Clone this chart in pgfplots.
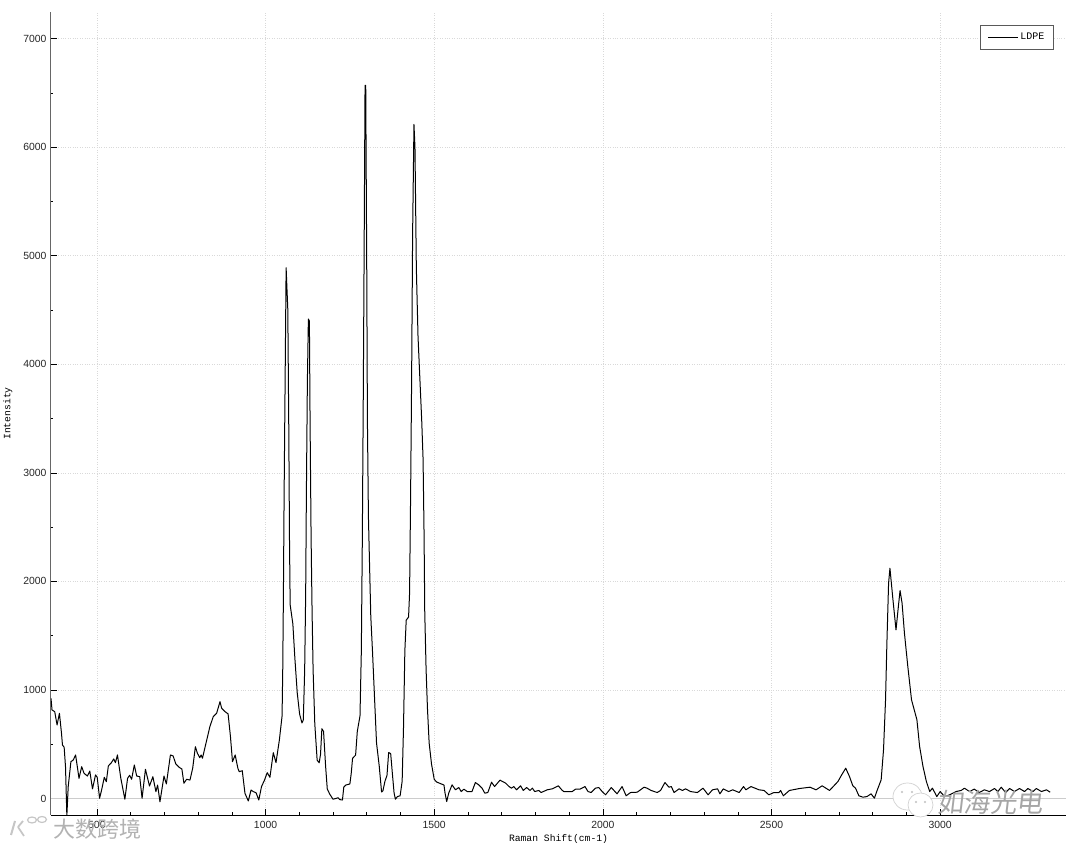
\documentclass[border=0pt]{standalone}
\usepackage{fontspec}
\setmainfont{Liberation Sans}
\setmonofont{Liberation Mono}
\newfontfamily\cjk{Noto Sans CJK SC}
\usepackage{pgfplots}
\usepackage{pgfplotstable}
\pgfplotsset{compat=1.18}

\pgfplotstableread{
x y
364 923
367 816
375 800
382 677
389 785
395 604
398 493
403 472
407 293
411 -160
415 109
423 339
430 355
437 401
447 186
455 293
462 232
472 207
479 253
487 88
496 217
501 195
508 2
514 78
522 195
528 155
534 300
543 330
550 364
555 330
561 401
571 186
583 -7
591 186
597 214
603 177
611 309
618 207
627 201
634 2
644 269
656 115
666 201
675 63
680 124
687 -30
699 207
706 134
718 401
726 392
734 318
744 287
752 272
758 140
766 177
776 170
784 278
792 477
798 417
805 376
809 401
813 371
821 477
835 662
845 754
855 785
865 892
870 831
880 800
889 779
896 570
902 339
906 370
910 401
918 278
922 247
931 256
939 48
949 -23
957 78
964 63
972 53
980 -14
988 109
997 170
1005 238
1013 195
1023 422
1031 330
1041 539
1049 760
1051 1184
1053 1890
1055 2774
1058 3834
1061 4890
1066 4505
1069 3375
1071 2385
1073 1784
1081 1608
1087 1290
1094 972
1101 777
1108 696
1112 724
1116 1184
1119 1890
1121 2774
1124 3834
1127 4417
1130 4399
1132 3481
1135 2420
1138 1714
1141 1184
1146 689
1153 353
1159 329
1163 406
1167 643
1172 618
1178 300
1183 88
1190 42
1200 -7
1208 0
1215 7
1220 -10
1228 -14
1232 106
1238 124
1250 134
1254 230
1258 371
1267 399
1272 618
1280 760
1284 1360
1287 2420
1290 3834
1292 4894
1295 6570
1297 6570
1300 4894
1302 3481
1305 2597
1309 2067
1312 1678
1317 1360
1322 1007
1329 512
1337 300
1344 60
1348 71
1354 159
1360 212
1365 424
1371 413
1376 230
1381 53
1385 -7
1391 18
1399 25
1405 159
1409 654
1413 1360
1417 1643
1424 1671
1427 1890
1430 2774
1433 3834
1436 5200
1440 6210
1443 6000
1447 4894
1452 4258
1458 3834
1463 3481
1467 3127
1470 2420
1472 1714
1476 1184
1480 830
1485 512
1492 318
1500 177
1507 152
1529 124
1532 53
1537 -28
1543 49
1553 126
1563 80
1573 101
1580 64
1588 86
1598 64
1612 64
1622 147
1632 126
1642 95
1650 49
1659 55
1670 150
1679 110
1695 169
1712 141
1722 110
1729 95
1736 110
1744 80
1756 117
1764 74
1774 101
1784 74
1791 95
1798 64
1810 74
1817 55
1835 80
1850 89
1868 117
1878 80
1884 64
1909 64
1919 86
1932 86
1947 110
1956 64
1965 55
1978 95
1988 101
1998 64
2008 34
2025 101
2042 43
2057 110
2069 25
2082 55
2102 58
2122 104
2131 95
2143 74
2161 55
2171 74
2184 147
2196 104
2203 110
2211 55
2226 89
2236 74
2245 89
2260 64
2280 55
2297 95
2312 34
2325 80
2340 89
2347 43
2357 89
2373 64
2385 80
2404 55
2417 110
2424 80
2439 110
2463 80
2478 74
2492 34
2507 55
2522 55
2527 74
2535 25
2553 74
2583 92
2614 104
2632 80
2650 117
2672 74
2697 157
2708 218
2720 279
2731 203
2741 117
2749 95
2759 25
2771 12
2783 18
2795 43
2805 3
2813 74
2825 172
2832 448
2838 909
2842 1431
2847 1983
2851 2121
2860 1830
2869 1553
2875 1738
2881 1916
2887 1799
2894 1523
2904 1216
2915 909
2931 725
2939 479
2949 295
2959 157
2969 64
2977 95
2990 18
3000 64
3013 18
3028 34
3047 64
3062 74
3072 95
3087 64
3101 86
3116 55
3131 80
3146 64
3161 92
3171 64
3181 104
3194 55
3206 92
3220 64
3235 92
3250 64
3260 92
3275 64
3285 92
3300 64
3315 80
3326 58
}\ldpe

\begin{document}
\begin{tikzpicture}
\useasboundingbox (-51pt,-34pt) rectangle (1029pt,815pt);
\begin{axis}[
	name=ax,
	at={(0pt,0pt)},
	anchor=south west,
	scale only axis,
	width=1015pt,
	height=803pt,
	xmin=364, xmax=3373,
	ymin=-152, ymax=7245,
	axis x line*=bottom,
	axis y line*=left,
	axis line style={-},
	x axis line style={line width=0.8pt},
	y axis line style={line width=1pt, black!60},
	xtick={500,1000,1500,2000,2500,3000},
	ytick={0,1000,2000,3000,4000,5000,6000,7000},
	minor x tick num=4,
	minor y tick num=1,
	tick align=inside,
	major tick length=6pt,
	minor tick length=2.5pt,
	tick style={black, line width=0.6pt},
	grid=major,
	grid style={dotted, gray!30, line width=0.5pt},
	scaled ticks=false,
	/pgf/number format/1000 sep={},
	/pgf/number format/assume math mode=true,
	tick label style={font=\fontsize{10.4}{12}\selectfont, black!85},
	xticklabel style={yshift=-3pt},
	yticklabel style={xshift=-1pt},
	xlabel={\ttfamily\fontsize{9.7}{11}\selectfont Raman Shift(cm-1)},
	ylabel={\ttfamily\fontsize{9.7}{11}\selectfont Intensity},
	xlabel style={yshift=1pt},
	ylabel style={yshift=4pt},
	legend style={
		at={(0.988,0.984)}, anchor=north east,
		draw=black!65, line width=0.8pt,
		font=\ttfamily\fontsize{10}{12}\selectfont,
		inner xsep=7pt, inner ysep=6pt,
	},
	legend image code/.code={\draw[black, line width=0.7pt] (0pt,0pt) -- (30pt,0pt);},
]
\addplot[gray!40, line width=0.8pt, forget plot] coordinates {(364,0) (3373,0)};
\addplot[black, line width=1pt, line join=round] table[x=x, y=y] {\ldpe};
\addlegendentry{LDPE}
\end{axis}
% watermarks
\node[text=gray!60, font=\cjk\fontsize{22}{24}\selectfont, anchor=west] at (-1pt,-14pt) {大数跨境};
\draw[gray!45, line width=2pt] (-36pt,-6pt) -- (-40pt,-20pt);
\draw[gray!45, line width=1.8pt] (-33pt,-12pt) -- (-28pt,-6pt) (-33pt,-12pt) -- (-27pt,-21pt);
\draw[gray!45, line width=1.2pt] (-19pt,-5pt) ellipse (4.5pt and 3pt) (-9pt,-4.5pt) ellipse (4.5pt and 3pt);
\draw[gray!35, fill=white, line width=0.7pt] (856.5pt,18.5pt) ellipse (14.5pt and 13.5pt);
\draw[gray!35, fill=white, line width=0.7pt] (869.5pt,10pt) ellipse (12.5pt and 12pt);
\fill[gray!50] (851pt,23pt) circle (1.2pt) (861pt,23pt) circle (1.2pt) (865pt,13pt) circle (1.2pt) (874pt,13pt) circle (1.2pt);
\node[text=gray!70, font=\cjk\fontsize{26.5}{28}\selectfont, anchor=west, xslant=0.12] at (884pt,13pt) {如海光电};
\end{tikzpicture}
\end{document}
